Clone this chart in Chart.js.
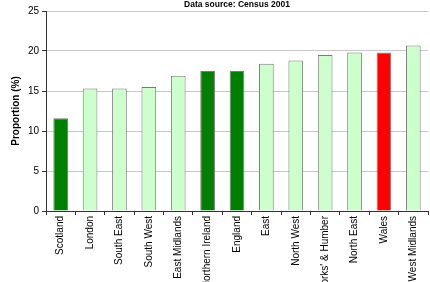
<!DOCTYPE html>
<html>
<head>
<meta charset="utf-8">
<script src="https://cdn.jsdelivr.net/npm/chart.js@4/dist/chart.umd.min.js"></script>
<style>
  html, body { margin: 0; padding: 0; background: #fff; overflow: hidden; }
  #wrap { width: 430px; height: 282px; position: relative; }
</style>
</head>
<body>
<div id="wrap"><canvas id="chart"></canvas></div>
<script>
const regions = ["Scotland", "London", "South East", "South West", "East Midlands", "Northern Ireland",
    "England", "East", "North West", "Yorks' & Humber", "North East", "Wales", "West Midlands"];
const proportions = [11.6, 15.3, 15.3, 15.5, 16.9, 17.5, 17.5, 18.4, 18.8, 19.5, 19.8, 19.8, 20.7];
const barColors = ["#008000", "#CCFFCC", "#CCFFCC", "#CCFFCC", "#CCFFCC", "#008000",
    "#008000", "#CCFFCC", "#CCFFCC", "#CCFFCC", "#CCFFCC", "#FF0000", "#CCFFCC"];
const yTicks = [0, 5, 10, 15, 20, 25];
const titleText = "Data source: Census 2001";

// title centred over the plot area, not the whole canvas
const plotTitle = {
    id: "plotTitle",
    afterDraw(chart) {
        const c = chart.ctx;
        const area = chart.chartArea;
        c.save();
        c.font = "bold 8.5px 'Liberation Sans'";
        c.fillStyle = "#000";
        c.textAlign = "center";
        c.textBaseline = "middle";
        c.fillText(titleText, (area.left + area.right) / 2, 4.5);
        c.restore();
    }
};

const ctx = document.getElementById("chart").getContext("2d");
new Chart(ctx, {
    type: "bar",
    data: {
        labels: regions,
        datasets: [{
            data: proportions,
            backgroundColor: barColors,
            borderColor: "#7a7a7a",
            borderWidth: 1,
            barPercentage: 0.5,
            categoryPercentage: 1
        }]
    },
    options: {
        responsive: true,
        maintainAspectRatio: false,
        animation: false,
        layout: { padding: { left: 10, right: 2, top: 11, bottom: 0 } },
        scales: {
            y: {
                min: 0,
                max: 25,
                afterBuildTicks: scale => { scale.ticks = yTicks.map(v => ({ value: v })); },
                afterFit: scale => { scale.width = 36; },
                border: { color: "#333", width: 1 },
                grid: { color: "#c8c8c8", lineWidth: 1, tickLength: 4, tickColor: "#333" },
                ticks: { color: "#000", padding: 3, font: { family: "Liberation Sans", size: 10 } },
                title: {
                    display: true,
                    text: "Proportion (%)",
                    color: "#000",
                    padding: 0,
                    font: { family: "Liberation Sans", size: 10, weight: "bold" }
                }
            },
            x: {
                afterFit: scale => { scale.height = 71; },
                border: { color: "#333", width: 1 },
                grid: { drawOnChartArea: false, tickLength: 4, tickColor: "#333", offset: true },
                ticks: {
                    color: "#000",
                    minRotation: 90,
                    maxRotation: 90,
                    autoSkip: false,
                    padding: 1,
                    font: { family: "Liberation Sans", size: 10 }
                }
            }
        },
        plugins: {
            legend: { display: false },
            tooltip: { enabled: false },
            title: { display: false }
        }
    },
    plugins: [plotTitle]
});
</script>
</body>
</html>
